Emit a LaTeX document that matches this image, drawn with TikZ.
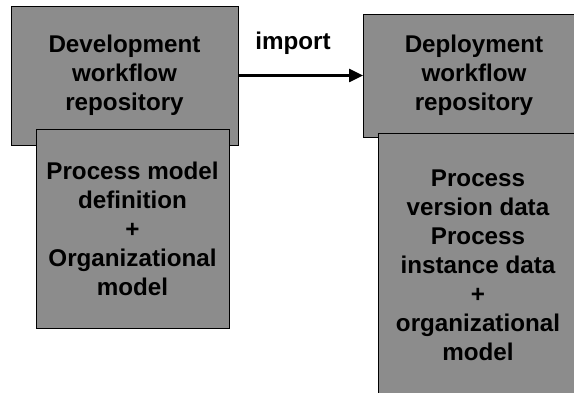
\documentclass[tikz,border=0pt]{standalone}
\usepackage{fontspec}
\setmainfont{Liberation Sans}
\usetikzlibrary{arrows.meta}
\definecolor{boxgray}{RGB}{140,140,140}
\begin{document}
\begin{tikzpicture}[x=1pt,y=-1pt,
  repo/.style={draw=black, line width=0.9pt, fill=boxgray, inner sep=0pt,
    align=center, font=\fontsize{24.2}{29}\selectfont\bfseries},
  lab/.style={font=\fontsize{24.2}{29}\selectfont\bfseries}]
  \clip (0,0) rectangle (574,393);
  \fill[white] (0,0) rectangle (574,393);
  % development side
  \node[repo, minimum width=227pt, minimum height=139pt] (dev) at (124.5,75.5)
    {Development\\workflow\\repository};
  \node[repo, minimum width=193pt, minimum height=199pt] (devdata) at (132.5,228.5)
    {Process model\\definition\\+\\Organizational\\model};
  % deployment side
  \node[repo, minimum width=221pt, minimum height=123pt] (dep) at (474,75.5)
    {Deployment\\workflow\\repository};
  \node[repo, minimum width=200pt, minimum height=264pt] (depdata) at (478,265)
    {Process\\version data\\Process\\instance data\\+\\organizational\\model};
  % import connector
  \draw[line width=2.4pt, -{Triangle[length=14pt,width=13pt]}] (dev.east) -- (dep.west);
  \node[lab] (imp) at (293,43) {import};
\end{tikzpicture}
\end{document}
